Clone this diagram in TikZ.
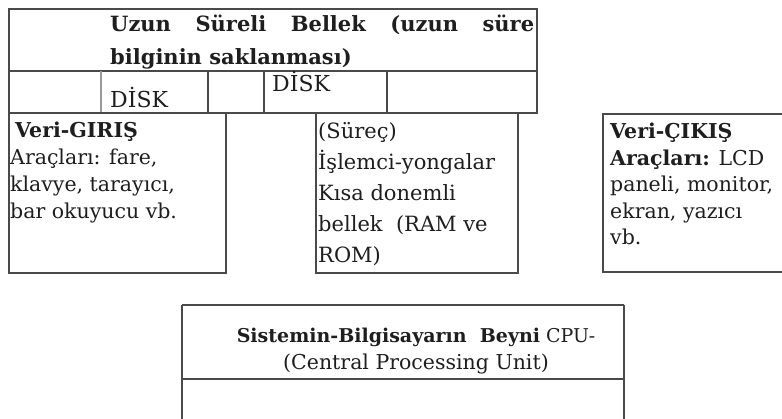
\documentclass[tikz,border=0pt]{standalone}
\usepackage{fontspec}
\setmainfont{DejaVu Serif}
\definecolor{linec}{HTML}{4A4A4A}
\definecolor{lightc}{HTML}{9A9A9A}
\definecolor{txtc}{HTML}{1E1E1E}
\tikzset{
  boxline/.style={draw=linec, line width=1.3pt},
  faintline/.style={draw=lightc, line width=1.5pt},
  heavyline/.style={draw=linec, line width=2pt},
  txt/.style={anchor=base west, inner sep=0pt, text=txtc, font=\fontsize{20.5}{22}\selectfont},
  ptxt/.style={anchor=base west, inner sep=0pt, text=txtc, font=\fontsize{21}{22}\selectfont},
  toptxt/.style={anchor=base west, inner sep=0pt, text=txtc, font=\fontsize{21}{22}\selectfont\bfseries},
  disktxt/.style={anchor=base west, inner sep=0pt, text=txtc, font=\fontsize{22}{24}\selectfont},
  cputxt/.style={anchor=base, inner sep=0pt, text=txtc, font=\fontsize{19}{20}\selectfont},
}
\begin{document}
\begin{tikzpicture}[x=1pt,y=-1pt]
\clip (0,0) rectangle (782,419);
\fill[white] (0,0) rectangle (782,419);
% long term memory table
\draw[boxline] (9,9) rectangle (537,113);
\draw[boxline] (9,71) -- (537,71);
\draw[faintline] (101,71) -- (101,113);
\draw[boxline] (208,71) -- (208,113);
\draw[boxline] (264,71) -- (264,113);
\draw[boxline] (387,71) -- (387,113);
\node[toptxt] (t1) at (110,32) {\makebox[424pt][s]{Uzun Süreli Bellek (uzun süre}};
\node[toptxt] (t2) at (110,65) {bilginin saklanması)};
\node[disktxt] (d1) at (110,108) {DİSK};
\node[disktxt] (d2) at (272,92) {DİSK};
% input box
\draw[boxline] (9,113) rectangle (226,273);
\node[txt, font=\fontsize{20.5}{22}\selectfont\bfseries] (i1) at (15,138) {Veri-GIRIŞ};
\node[txt] (i2) at (10,165) {Araçları: fare,};
\node[txt] (i3) at (10,192) {klavye, tarayıcı,};
\node[txt] (i4) at (10,219) {bar okuyucu vb.};
% process box
\draw[boxline] (316,113) rectangle (518,273);
\node[ptxt] (p1) at (318,139) {(Süreç)};
\node[ptxt] (p2) at (318,170) {İşlemci-yongalar};
\node[ptxt] (p3) at (318,201) {Kısa donemli};
\node[ptxt] (p4) at (318,232) {bellek\ \ (RAM ve};
\node[ptxt] (p5) at (318,263) {ROM)};
% output box
\draw[boxline] (603,114) rectangle (800,272);
\node[txt, font=\fontsize{20.5}{22}\selectfont\bfseries] (o1) at (610,139) {Veri-ÇIKIŞ};
\node[txt] (o2) at (610,166) {\textbf{Araçları:} LCD};
\node[txt] (o3) at (610,192) {paneli, monitor,};
\node[txt] (o4) at (610,219) {ekran, yazıcı};
\node[txt] (o5) at (610,245) {vb.};
% CPU box
\draw[boxline] (182,305) -- (182,430);
\draw[boxline] (624,305) -- (624,430);
\draw[heavyline] (182,305) -- (624,305);
\draw[heavyline] (182,379) -- (624,379);
\node[cputxt] (c1) at (416,343) {\textbf{Sistemin-Bilgisayarın\ \ Beyni} CPU-};
\node[cputxt, font=\fontsize{20.5}{22}\selectfont] (c2) at (416,370) {(Central Processing Unit)};
\end{tikzpicture}
\end{document}
